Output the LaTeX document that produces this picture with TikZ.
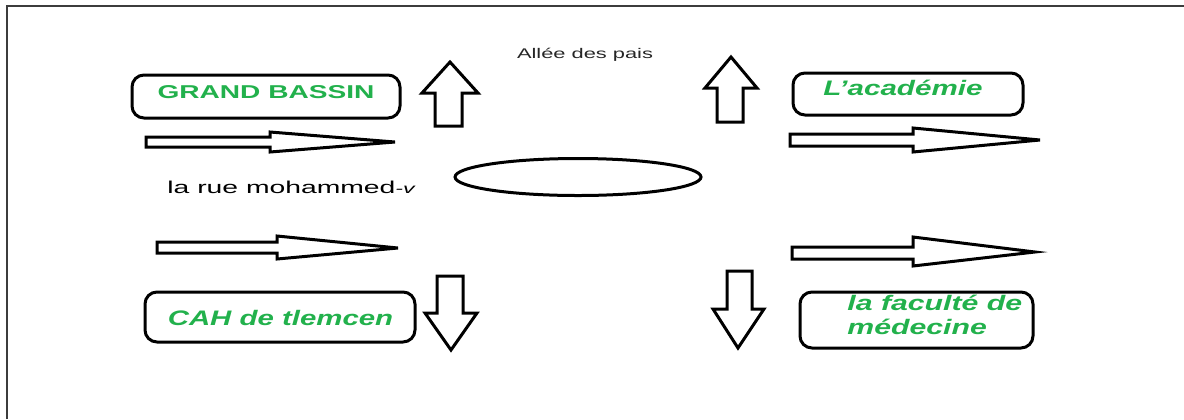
\documentclass[tikz,border=0pt]{standalone}
\usepackage{fontspec}
\setmainfont{Liberation Sans}
\usepackage{graphicx}
\usetikzlibrary{shapes.geometric}
\definecolor{pgreen}{RGB}{34,177,76}
\definecolor{framegray}{RGB}{60,60,60}
\tikzset{
  blk/.style={draw=black, line width=1.5pt, fill=white, line join=miter},
  tagbox/.style={draw=black, line width=1.5pt, rounded corners=6pt, inner sep=0pt},
  gtext/.style={text=pgreen, font=\fontsize{10.5}{12}\selectfont\bfseries\itshape, inner sep=0pt},
  plain/.style={text=black, inner sep=0pt},
}
\begin{document}
\begin{tikzpicture}[x=0.5pt,y=-0.5pt]
\useasboundingbox (0,0) rectangle (1184,419);
% frame
\draw[framegray, line width=1pt] (7,419) -- (7,5.5) -- (1184,5.5);

% boxes
\node[tagbox, minimum width=134pt, minimum height=21.5pt] (b1) at (266,96.5) {};
\node[tagbox, minimum width=115pt, minimum height=21pt] (b2) at (908,94) {};
\node[tagbox, minimum width=135pt, minimum height=25pt] (b3) at (280,317) {};
\node[tagbox, minimum width=116.5pt, minimum height=28pt] (b4) at (916.5,320) {};

% box texts
\node[gtext, font=\fontsize{9.3}{11}\selectfont\bfseries] (t1) at (266,92.5) {\scalebox{1.51}[1]{GRAND BASSIN}};
\node[gtext] (t2) at (903,87.5) {\scalebox{1.41}[1]{L\char"27 académie}};
\node[gtext] (t3) at (280.5,317.5) {\scalebox{1.40}[1]{CAH de tlemcen}};
\node[gtext, anchor=west] (t4) at (847,318) {\scalebox{1.44}[1]{\begin{tabular}{@{}l@{}}la faculté de\\médecine\end{tabular}}};

% labels
\node[plain, anchor=base, font=\fontsize{7}{8}\selectfont, text=black!85] (allee) at (585,58) {\scalebox{1.56}[1]{Allée des pais}};
\node[plain, anchor=base west, font=\fontsize{8.6}{10}\selectfont] (rue) at (167,193) {\scalebox{1.645}[1]{la rue mohammed\textit{\fontsize{7}{8}\selectfont-v}}};

% roundabout
\node[draw=black, line width=1.5pt, ellipse, minimum width=123pt, minimum height=18.5pt, inner sep=0pt] (ell) at (578,177) {};

% up arrows
\draw[blk] (435,126) -- (435,93) -- (422,93) -- (450,62) -- (478,93) -- (462,93) -- (462,126) -- cycle;
\draw[blk] (717,122) -- (717,88) -- (705,88) -- (731,57) -- (757,88) -- (743,88) -- (743,122) -- cycle;
% right arrows
\draw[blk] (146,137) -- (270,137) -- (270,132) -- (395,142) -- (270,152) -- (270,147) -- (146,147) -- cycle;
\draw[blk] (790,134) -- (913,134) -- (913,128) -- (1040,140) -- (913,152) -- (913,146) -- (790,146) -- cycle;
\draw[blk] (157,242) -- (277,242) -- (277,236) -- (398,248) -- (277,259) -- (277,253) -- (157,253) -- cycle;
\draw[blk] (792,247) -- (913,247) -- (913,237) -- (1035,252) -- (913,266) -- (913,259) -- (792,259) -- cycle;
% down arrows
\draw[blk] (437,276) -- (463,276) -- (463,313) -- (477,313) -- (451,350) -- (425,313) -- (437,313) -- cycle;
\draw[blk] (727,271) -- (752,271) -- (752,309) -- (764,309) -- (738,348) -- (713,309) -- (727,309) -- cycle;
\end{tikzpicture}
\end{document}
